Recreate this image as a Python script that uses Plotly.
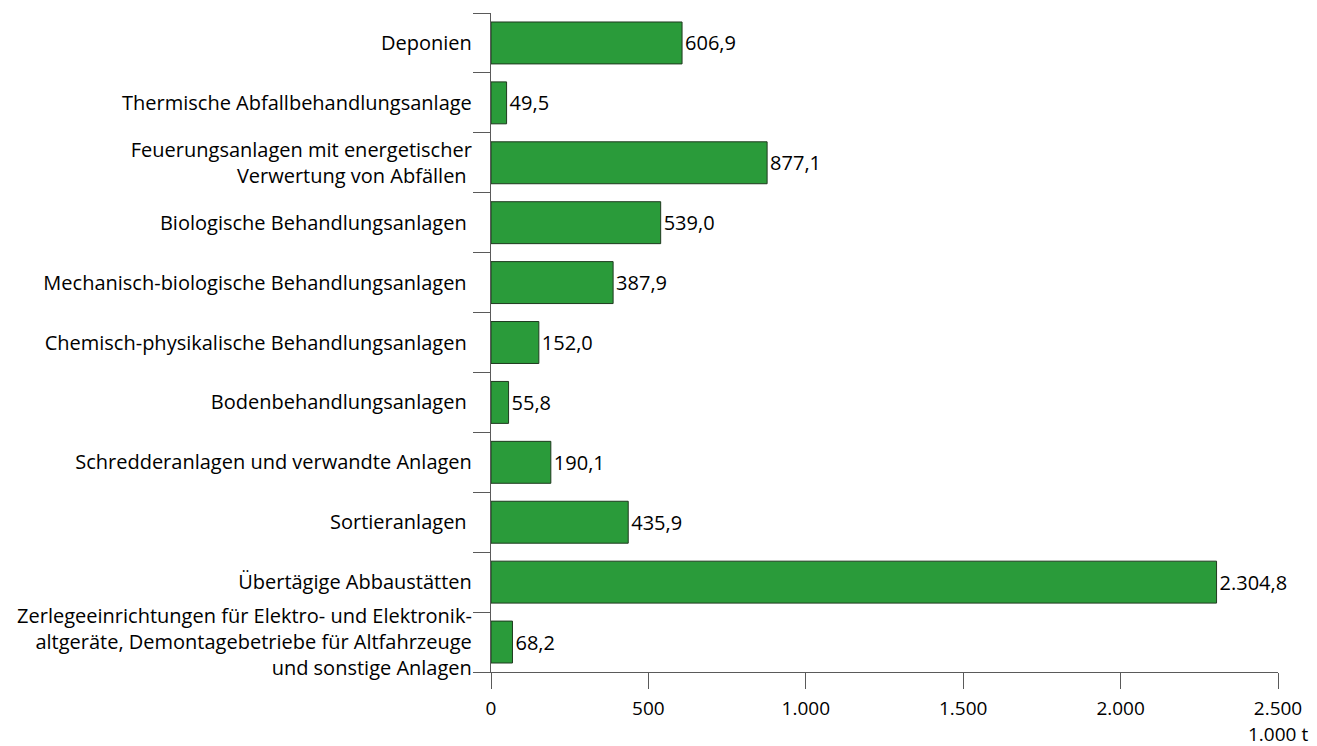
import plotly.graph_objects as go

categories = [
    "Deponien",
    "Thermische Abfallbehandlungsanlage",
    "Feuerungsanlagen mit energetischer<br>Verwertung von Abfällen ",
    "Biologische Behandlungsanlagen ",
    "Mechanisch-biologische Behandlungsanlagen ",
    "Chemisch-physikalische Behandlungsanlagen ",
    "Bodenbehandlungsanlagen ",
    "Schredderanlagen und verwandte Anlagen",
    "Sortieranlagen ",
    "Übertägige Abbaustätten",
    "Zerlegeeinrichtungen für Elektro- und Elektronik-<br>altgeräte, Demontagebetriebe für Altfahrzeuge<br>und sonstige Anlagen",
]
values = [606.9, 49.5, 877.1, 539.0, 387.9, 152.0, 55.8, 190.1, 435.9, 2304.8, 68.2]
x_ticks = [0, 500, 1000, 1500, 2000, 2500]
unit_label = "1.000 t"

FONT = "Open Sans"
FS = 20
FS_X = 19

fig = go.Figure(
    go.Bar(
        y=categories,
        x=values,
        orientation="h",
        marker=dict(color="#2a9b3a", line=dict(color="#1f3a1f", width=1)),
        width=0.7,
        text=values,
        texttemplate="%{x:,.1f}",
        textposition="outside",
        textfont=dict(family=FONT, size=FS, color="#000000"),
        constraintext="none",
        cliponaxis=False,
        hoverinfo="skip",
    )
)

fig.update_layout(
    width=1309,
    height=738,
    margin=dict(l=483, r=39, t=5, b=74),
    paper_bgcolor="white",
    plot_bgcolor="white",
    separators=",.",
    showlegend=False,
    font=dict(family=FONT, size=FS, color="#000000"),
    xaxis=dict(
        range=[0, 2500],
        tickvals=x_ticks,
        tickformat=",d",
        showgrid=False,
        zeroline=False,
        showline=True,
        linecolor="#5a5a5a",
        linewidth=1.3,
        ticks="outside",
        ticklen=16,
        tickcolor="#5a5a5a",
        tickwidth=1.3,
        ticklabelstandoff=3,
        tickfont=dict(family=FONT, size=FS_X, color="#000000"),
    ),
    yaxis=dict(
        categoryorder="array",
        categoryarray=categories[::-1],
        showgrid=False,
        zeroline=False,
        showline=True,
        linecolor="#5a5a5a",
        linewidth=1.3,
        ticks="outside",
        tickson="boundaries",
        ticklen=17,
        tickcolor="#5a5a5a",
        tickwidth=1.3,
        ticklabelstandoff=14,
        tickfont=dict(family=FONT, size=FS, color="#000000"),
    ),
)

fig.add_annotation(
    x=2500, y=0, xref="x", yref="paper",
    text=unit_label, showarrow=False,
    xanchor="center", yanchor="top", yshift=-47,
    font=dict(family=FONT, size=FS_X, color="#000000"),
)

fig.write_html("out.html")
